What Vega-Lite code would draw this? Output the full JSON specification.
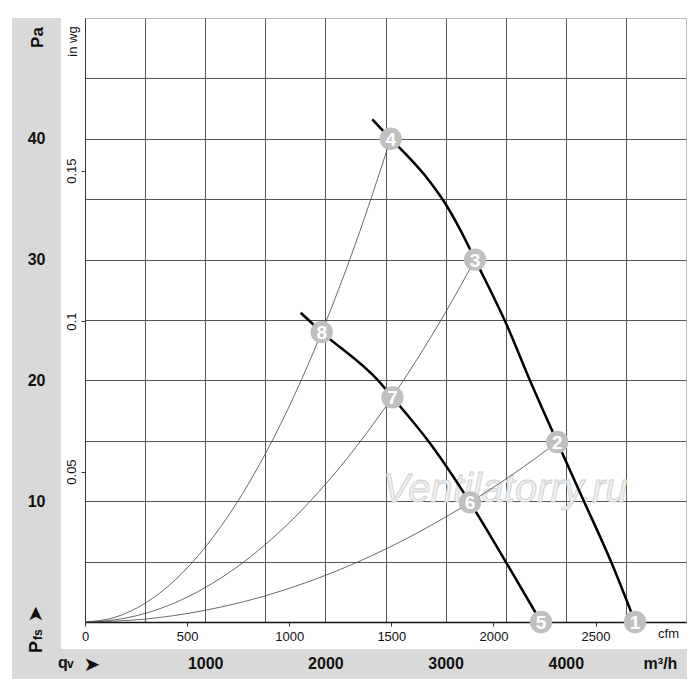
{
  "$schema": "https://vega.github.io/schema/vega-lite/v6.json",
  "width": 601,
  "height": 604,
  "autosize": "none",
  "padding": {"left": 85, "top": 18, "right": 14, "bottom": 78},
  "background": "white",
  "config": {
    "font": "Liberation Sans",
    "view": {"stroke": "#bbbbbb", "strokeWidth": 1},
    "axis": {"labelFont": "Liberation Sans", "titleFont": "Liberation Sans", "labelColor": "#111", "titleColor": "#111"}
  },
  "data": {"values": [{}]},
  "datasets": {
    "system": [
      {"curve": "A", "q": 0, "p": 0}, {"curve": "A", "q": 250, "p": 0.39}, {"curve": "A", "q": 500, "p": 1.55},
      {"curve": "A", "q": 750, "p": 3.48}, {"curve": "A", "q": 1000, "p": 6.19}, {"curve": "A", "q": 1250, "p": 9.66},
      {"curve": "A", "q": 1500, "p": 13.92}, {"curve": "A", "q": 1750, "p": 18.94}, {"curve": "A", "q": 1969, "p": 23.98},
      {"curve": "A", "q": 2250, "p": 31.31}, {"curve": "A", "q": 2543, "p": 40.0},
      {"curve": "B", "q": 0, "p": 0}, {"curve": "B", "q": 250, "p": 0.18}, {"curve": "B", "q": 500, "p": 0.71},
      {"curve": "B", "q": 750, "p": 1.6}, {"curve": "B", "q": 1000, "p": 2.85}, {"curve": "B", "q": 1250, "p": 4.45},
      {"curve": "B", "q": 1500, "p": 6.41}, {"curve": "B", "q": 1750, "p": 8.72}, {"curve": "B", "q": 2000, "p": 11.4},
      {"curve": "B", "q": 2250, "p": 14.42}, {"curve": "B", "q": 2558, "p": 18.64}, {"curve": "B", "q": 2750, "p": 21.55},
      {"curve": "B", "q": 3000, "p": 25.64}, {"curve": "B", "q": 3245, "p": 30.0},
      {"curve": "C", "q": 0, "p": 0}, {"curve": "C", "q": 500, "p": 0.24}, {"curve": "C", "q": 1000, "p": 0.97},
      {"curve": "C", "q": 1500, "p": 2.17}, {"curve": "C", "q": 2000, "p": 3.86}, {"curve": "C", "q": 2500, "p": 6.03},
      {"curve": "C", "q": 3000, "p": 8.69}, {"curve": "C", "q": 3203, "p": 9.9}, {"curve": "C", "q": 3500, "p": 11.82},
      {"curve": "C", "q": 3750, "p": 13.57}, {"curve": "C", "q": 3929, "p": 14.9}
    ],
    "fan": [
      {"fan": "high", "q": 2390, "p": 41.6}, {"fan": "high", "q": 2543, "p": 40.0}, {"fan": "high", "q": 2700, "p": 38.4},
      {"fan": "high", "q": 2850, "p": 36.7}, {"fan": "high", "q": 3000, "p": 34.6}, {"fan": "high", "q": 3120, "p": 32.5},
      {"fan": "high", "q": 3245, "p": 30.0}, {"fan": "high", "q": 3508, "p": 24.6}, {"fan": "high", "q": 3702, "p": 20.0},
      {"fan": "high", "q": 3929, "p": 14.9}, {"fan": "high", "q": 4146, "p": 10.1}, {"fan": "high", "q": 4382, "p": 4.86},
      {"fan": "high", "q": 4576, "p": 0},
      {"fan": "low", "q": 1794, "p": 25.6}, {"fan": "low", "q": 1969, "p": 24.0}, {"fan": "low", "q": 2438, "p": 20.0},
      {"fan": "low", "q": 2558, "p": 18.6}, {"fan": "low", "q": 2870, "p": 14.8}, {"fan": "low", "q": 3203, "p": 9.9},
      {"fan": "low", "q": 3508, "p": 4.86}, {"fan": "low", "q": 3794, "p": 0}
    ],
    "points": [
      {"n": "1", "q": 4576, "p": 0}, {"n": "2", "q": 3929, "p": 14.9}, {"n": "3", "q": 3245, "p": 30.0},
      {"n": "4", "q": 2543, "p": 40.0}, {"n": "5", "q": 3794, "p": 0}, {"n": "6", "q": 3203, "p": 9.9},
      {"n": "7", "q": 2558, "p": 18.6}, {"n": "8", "q": 1969, "p": 24.0}
    ]
  },
  "layer": [
    {
      "mark": {"type": "rect", "color": "#d9d9d9"},
      "encoding": {
        "x": {"datum": -607, "type": "quantitative", "scale": {"domain": [0, 5000], "nice": false, "zero": false},
          "axis": {"orient": "bottom", "values": [500, 1000, 1500, 2000, 2500, 3000, 3500, 4000, 4500], "grid": true,
            "gridColor": "#555555", "gridWidth": 1, "labels": false, "ticks": false, "domain": true,
            "domainColor": "#111111", "domainWidth": 1.6, "title": null, "zindex": 0}},
        "x2": {"datum": -200},
        "y": {"datum": 50, "type": "quantitative", "scale": {"domain": [0, 50], "nice": false, "zero": false},
          "axis": {"orient": "left", "values": [5, 10, 15, 20, 25, 30, 35, 40, 45], "grid": true,
            "gridColor": "#555555", "gridWidth": 1, "labels": false, "ticks": false, "domain": true,
            "domainColor": "#333333", "domainWidth": 1, "title": null, "zindex": 0}},
        "y2": {"datum": -4.72}
      }
    },
    {
      "mark": {"type": "rect", "color": "#d9d9d9"},
      "encoding": {
        "x": {"datum": -607, "type": "quantitative", "scale": {"domain": [0, 5000], "nice": false, "zero": false},
          "axis": {"orient": "bottom", "values": [1000, 2000, 3000, 4000], "format": "d", "grid": false, "domain": false, "ticks": false,
            "labelFontWeight": "bold", "labelFontSize": 16, "labelPadding": 41, "labelBaseline": "middle",
            "labelAlign": "center", "labelFlush": false, "labelOverlap": false,
            "title": "m³/h", "titleX": 575, "titleY": 41, "titleAlign": "center", "titleBaseline": "middle",
            "titleFontSize": 16, "titleFontWeight": "bold", "zindex": 1}},
        "x2": {"datum": 5008},
        "y": {"datum": -2.235, "type": "quantitative", "scale": {"domain": [0, 50], "nice": false, "zero": false},
          "axis": {"orient": "left", "values": [10, 20, 30, 40], "format": "d", "grid": false, "domain": false, "ticks": false,
            "labelFontWeight": "bold", "labelFontSize": 16, "labelPadding": 40, "labelAlign": "right",
            "labelBaseline": "middle", "labelOverlap": false,
            "title": "Pa", "titleX": -48, "titleY": 19, "titleAngle": 270, "titleAlign": "center",
            "titleBaseline": "middle", "titleFontSize": 17, "titleFontWeight": "bold", "zindex": 1}},
        "y2": {"datum": -4.72}
      }
    },
    {
      "mark": {"type": "text", "text": "Ventilatorry.ru", "font": "Liberation Sans", "fontStyle": "italic",
        "fontSize": 40, "align": "left", "baseline": "alphabetic", "fill": "#efefef", "stroke": "#cfcfcf", "strokeWidth": 0.8},
      "encoding": {
        "x": {"datum": 2479, "type": "quantitative", "scale": {"domain": [0, 5000], "nice": false, "zero": false},
          "axis": {"orient": "bottom", "values": [0, 849.5, 1699, 2548.5, 3398, 4247.5],
            "labelExpr": "format(round(datum.value / 1.699), 'd')", "grid": false, "domain": false,
            "ticks": true, "tickSize": 4, "tickColor": "#333333", "tickWidth": 1,
            "labelFontSize": 13, "labelPadding": 4, "labelBaseline": "top", "labelAlign": "center",
            "labelFlush": false, "labelOverlap": false, "labelBound": false,
            "title": "cfm", "titleX": 583, "titleY": 11, "titleAlign": "center", "titleBaseline": "middle",
            "titleFontSize": 13, "titleFontWeight": "normal", "zindex": 1}},
        "y": {"datum": 9.93, "type": "quantitative", "scale": {"domain": [0, 50], "nice": false, "zero": false},
          "axis": {"orient": "left", "values": [12.454, 24.909, 37.363],
            "labelExpr": "format(datum.value / 249.09, '.2~f')", "grid": false, "domain": false,
            "ticks": true, "tickSize": 4, "tickColor": "#333333", "tickWidth": 1,
            "labelAngle": 270, "labelAlign": "center", "labelBaseline": "bottom", "labelPadding": 3,
            "labelFontSize": 13, "labelOverlap": false,
            "title": "in wg", "titleX": -13, "titleY": 23, "titleAngle": 270, "titleAlign": "center",
            "titleBaseline": "middle", "titleFontSize": 13, "titleFontWeight": "normal", "zindex": 1}}
      }
    },
    {
      "data": {"name": "system"},
      "mark": {"type": "line", "color": "#444444", "strokeWidth": 0.8, "interpolate": "monotone"},
      "encoding": {
        "x": {"field": "q", "type": "quantitative", "scale": {"domain": [0, 5000], "nice": false, "zero": false}, "axis": null},
        "y": {"field": "p", "type": "quantitative", "scale": {"domain": [0, 50], "nice": false, "zero": false}, "axis": null},
        "detail": {"field": "curve"}
      }
    },
    {
      "data": {"name": "fan"},
      "mark": {"type": "line", "color": "#000000", "strokeWidth": 2.5, "interpolate": "monotone"},
      "encoding": {
        "x": {"field": "q", "type": "quantitative", "scale": {"domain": [0, 5000], "nice": false, "zero": false}, "axis": null},
        "y": {"field": "p", "type": "quantitative", "scale": {"domain": [0, 50], "nice": false, "zero": false}, "axis": null},
        "detail": {"field": "fan"}
      }
    },
    {
      "data": {"name": "points"},
      "mark": {"type": "point", "shape": "circle", "filled": true, "size": 500, "color": "#c0c0c0", "opacity": 1},
      "encoding": {
        "x": {"field": "q", "type": "quantitative", "scale": {"domain": [0, 5000], "nice": false, "zero": false}, "axis": null},
        "y": {"field": "p", "type": "quantitative", "scale": {"domain": [0, 50], "nice": false, "zero": false}, "axis": null}
      }
    },
    {
      "data": {"name": "points"},
      "mark": {"type": "text", "color": "white", "fontSize": 19, "fontWeight": "bold", "align": "center", "baseline": "middle", "dy": 1},
      "encoding": {
        "x": {"field": "q", "type": "quantitative", "scale": {"domain": [0, 5000], "nice": false, "zero": false}, "axis": null},
        "y": {"field": "p", "type": "quantitative", "scale": {"domain": [0, 50], "nice": false, "zero": false}, "axis": null},
        "text": {"field": "n"}
      }
    },
    {
      "mark": {"type": "text", "text": "P", "angle": 270, "align": "left", "baseline": "alphabetic", "fontSize": 18, "fontWeight": "bold", "color": "#111"},
      "encoding": {
        "x": {"datum": -357.7, "type": "quantitative", "scale": {"domain": [0, 5000], "nice": false, "zero": false}, "axis": null},
        "y": {"datum": -2.57, "type": "quantitative", "scale": {"domain": [0, 50], "nice": false, "zero": false}, "axis": null}
      }
    },
    {
      "mark": {"type": "text", "text": "fs", "angle": 270, "align": "left", "baseline": "alphabetic", "fontSize": 12, "fontWeight": "bold", "color": "#111"},
      "encoding": {
        "x": {"datum": -357.7, "type": "quantitative", "scale": {"domain": [0, 5000], "nice": false, "zero": false}, "axis": null},
        "y": {"datum": -1.49, "type": "quantitative", "scale": {"domain": [0, 50], "nice": false, "zero": false}, "axis": null}
      }
    },
    {
      "mark": {"type": "text", "text": "➤", "font": "DejaVu Sans", "angle": 270, "align": "center", "baseline": "middle", "fontSize": 20, "color": "#111"},
      "encoding": {
        "x": {"datum": -403.5, "type": "quantitative", "scale": {"domain": [0, 5000], "nice": false, "zero": false}, "axis": null},
        "y": {"datum": 0.66, "type": "quantitative", "scale": {"domain": [0, 50], "nice": false, "zero": false}, "axis": null}
      }
    },
    {
      "mark": {"type": "text", "text": "q", "align": "left", "baseline": "alphabetic", "fontSize": 16, "fontWeight": "bold", "color": "#111"},
      "encoding": {
        "x": {"datum": -224.6, "type": "quantitative", "scale": {"domain": [0, 5000], "nice": false, "zero": false}, "axis": null},
        "y": {"datum": -3.81, "type": "quantitative", "scale": {"domain": [0, 50], "nice": false, "zero": false}, "axis": null}
      }
    },
    {
      "mark": {"type": "text", "text": "v", "align": "left", "baseline": "alphabetic", "fontSize": 12, "fontWeight": "bold", "color": "#111"},
      "encoding": {
        "x": {"datum": -149.8, "type": "quantitative", "scale": {"domain": [0, 5000], "nice": false, "zero": false}, "axis": null},
        "y": {"datum": -3.81, "type": "quantitative", "scale": {"domain": [0, 50], "nice": false, "zero": false}, "axis": null}
      }
    },
    {
      "mark": {"type": "text", "text": "➤", "font": "DejaVu Sans", "align": "center", "baseline": "middle", "fontSize": 20, "color": "#111"},
      "encoding": {
        "x": {"datum": 58.2, "type": "quantitative", "scale": {"domain": [0, 5000], "nice": false, "zero": false}, "axis": null},
        "y": {"datum": -3.56, "type": "quantitative", "scale": {"domain": [0, 50], "nice": false, "zero": false}, "axis": null}
      }
    }
  ],
  "resolve": {"axis": {"x": "independent", "y": "independent"}}
}
